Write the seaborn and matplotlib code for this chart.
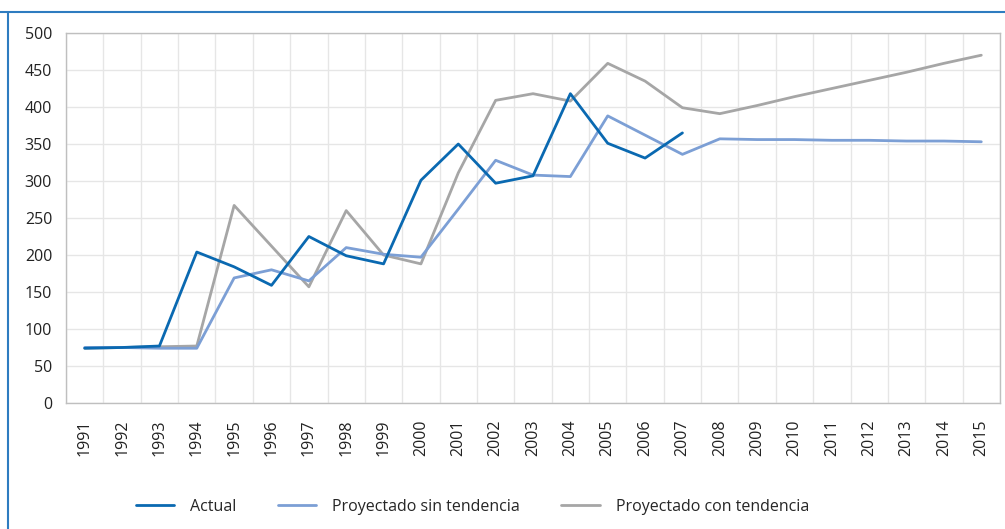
import numpy as np
import pandas as pd
import matplotlib.pyplot as plt
import seaborn as sns
from matplotlib.lines import Line2D

years = list(range(1991, 2016))
actual = [74, 75, 77, 204, 184, 159, 225, 199, 188, 301, 350, 297, 307, 418, 351, 331, 365,
          np.nan, np.nan, np.nan, np.nan, np.nan, np.nan, np.nan, np.nan]
sin_tendencia = [75, 75, 74, 74, 169, 180, 165, 210, 201, 197, 262, 328, 308, 306, 388, 362, 336,
                 357, 356, 356, 355, 355, 354, 354, 353]
con_tendencia = [74, 75, 76, 77, 267, 212, 157, 260, 200, 188, 311, 409, 418, 408, 459, 435, 399,
                 391, 402, 414, 425, 436, 447, 459, 470]

names = ["Actual", "Proyectado sin tendencia", "Proyectado con tendencia"]
colors = ["#0A69B1", "#7C9FD5", "#A6A6A6"]

df = pd.DataFrame({"year": years, names[0]: actual, names[1]: sin_tendencia, names[2]: con_tendencia})
long = df.melt(id_vars="year", var_name="serie", value_name="valor").dropna()

sns.set_style("white")
plt.rcParams["font.family"] = ["Open Sans", "DejaVu Sans"]

fig = plt.figure(figsize=(10.05, 5.29), dpi=100)
ax = fig.add_axes([0.0657, 0.2382, 0.9293, 0.6994])

sns.lineplot(data=long, x="year", y="valor", hue="serie", hue_order=names,
             palette=colors, linewidth=2.0, ax=ax, legend=False, sort=True)
# actual on top, grey at the bottom
for line, z in zip(ax.lines, [3, 2, 1]):
    line.set_zorder(z)

ax.set_xlim(1990.5, 2015.5)
ax.set_ylim(0, 500)
ax.set_xticks(years)
ax.set_xticklabels([str(y) for y in years], rotation=90, fontsize=11.5, color="#222222")
ax.set_xticks(np.arange(1990.5, 2016, 1), minor=True)
ax.set_yticks(range(0, 501, 50))
ax.set_yticklabels([str(v) for v in range(0, 501, 50)], fontsize=11.5, color="#222222")
ax.tick_params(axis="x", which="both", length=0, pad=12)
ax.tick_params(axis="y", length=0, pad=10)
ax.grid(False)
ax.grid(True, which="minor", axis="x", color="#E6E6E6", linewidth=1)
ax.grid(True, which="major", axis="y", color="#E6E6E6", linewidth=1)
ax.set_axisbelow(True)
ax.set_xlabel("")
ax.set_ylabel("")
for s in ax.spines.values():
    s.set_color("#BFBFBF")
    s.set_linewidth(1)

handles = [Line2D([0], [0], color=c, linewidth=2.0) for c in colors]
fig.legend(handles, names, loc="center", bbox_to_anchor=(0.47, 0.042), ncol=3,
           frameon=False, fontsize=11.5, handlelength=2.4, handletextpad=1.0,
           columnspacing=2.6)

# frame lines of the original box
fig.add_artist(Line2D([0, 1], [1 - 12 / 529, 1 - 12 / 529], color="#2E7CC0", linewidth=1.5))
fig.add_artist(Line2D([8 / 1005, 8 / 1005], [0, 1 - 12 / 529], color="#2E7CC0", linewidth=1.5))

fig.savefig("out.png", dpi=100)
